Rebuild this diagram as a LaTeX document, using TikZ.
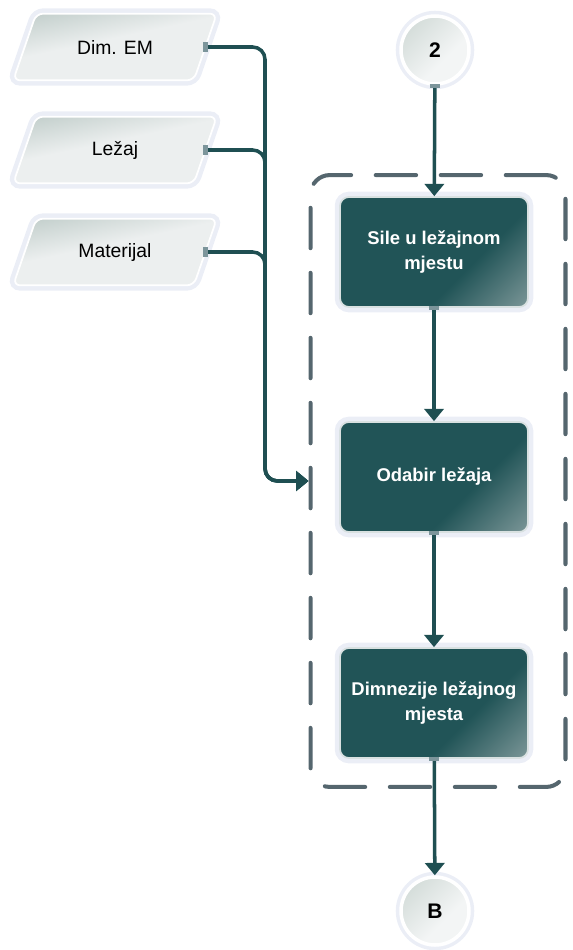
\documentclass[tikz,border=0pt]{standalone}
\usepackage{fontspec}
\setmainfont{Liberation Sans}
\usetikzlibrary{arrows.meta,backgrounds}

\definecolor{flowcol}{HTML}{1F4F52}
\definecolor{boxdark}{HTML}{215457}
\definecolor{boxcorner}{HTML}{B4C0C0}
\definecolor{boxrim}{HTML}{D9E1E1}
\definecolor{indark}{HTML}{9AAFA9}
\definecolor{inlight}{HTML}{ECEFEF}
\definecolor{cdark}{HTML}{BFCCC7}
\definecolor{clight}{HTML}{F3F5F5}
\definecolor{dashcol}{HTML}{55666E}
\definecolor{glowcol}{HTML}{D3DAEC}
\definecolor{portcol}{HTML}{7C959B}

\pgfdeclareverticalshading{boxshade}{100bp}{color(0bp)=(boxcorner); color(38bp)=(boxdark); color(100bp)=(boxdark)}
\pgfdeclareverticalshading{inshade}{100bp}{color(0bp)=(inlight); color(55bp)=(inlight); color(100bp)=(indark)}
\pgfdeclareverticalshading{cshade}{100bp}{color(0bp)=(clight); color(40bp)=(clight); color(100bp)=(cdark)}

\begin{document}
\begin{tikzpicture}[x=0.02cm, y=-0.02cm,
    glow/.style={preaction={draw=glowcol, line width=6pt, opacity=0.45}},
    inbox/.style={rectangle, minimum width=3.6cm, minimum height=1.32cm,
      font=\fontsize{11}{13}\selectfont},
    inshape/.style={draw=white, line width=1pt, rounded corners=4pt,
      shading=inshade, shading angle=12, glow},
    stepbox/.style={rectangle, minimum width=3.76cm, minimum height=2.2cm, rounded corners=5pt,
      draw=boxrim, line width=1pt, shading=boxshade, shading angle=45, text=white,
      align=center, font=\bfseries\fontsize{10.5}{14}\selectfont, glow},
    conn/.style={circle, minimum size=1.36cm, draw=white, line width=2pt,
      shading=cshade, shading angle=45, font=\bfseries\fontsize{12}{14}\selectfont, glow},
    group/.style={draw=dashcol, line width=2.3pt, dash pattern=on 23pt off 14pt,
      line cap=round, rounded corners=11pt, minimum width=5.1cm, minimum height=12.24cm},
    flow/.style={draw=flowcol, line width=2pt, rounded corners=7pt,
      -{Triangle[width=11pt,length=7pt]}},
    port/.style={draw=portcol, line width=2.5pt}]
  \useasboundingbox (0,0) rectangle (573,950);

  \node[group] (grp) at (438,481) {};

  \node[inbox] (dim) at (115,47) {Dim. EM};
  \node[inbox] (lez) at (115,150) {Ležaj};
  \node[inbox] (mat) at (115,252) {Materijal};

  \begin{scope}[on background layer]
    \foreach \n in {dim,lez,mat}
      \path[inshape] ([xshift=0.23cm]\n.north west) -- ([xshift=0.23cm]\n.north east)
        -- ([xshift=-0.23cm]\n.south east) -- ([xshift=-0.23cm]\n.south west) -- cycle;
  \end{scope}

  \node[conn] (c2) at (435,50) {2};
  \node[stepbox] (sile) at (434,252) {Sile u ležajnom\\mjestu};
  \node[stepbox] (odab) at (434,477) {Odabir ležaja};
  \node[stepbox] (dimz) at (434,703) {Dimnezije ležajnog\\mjesta};
  \node[conn] (cb) at (435,911) {B};

  \coordinate (bus) at (265,481);
  \draw[flow] (dim.east) -| (bus) -- (grp.west |- bus);
  \draw[flow] (lez.east) -| (bus) -- (grp.west |- bus);
  \draw[flow] (mat.east) -| (bus) -- (grp.west |- bus);

  \draw[flow] (c2) -- (sile);
  \draw[flow] (sile) -- (odab);
  \draw[flow] (odab) -- (dimz);
  \draw[flow] (dimz) -- (cb);

  \foreach \n in {dim,lez,mat}
    \draw[port] ([yshift=3pt]\n.east) -- ([yshift=-3pt]\n.east);
  \foreach \n in {c2,sile,odab,dimz}
    \draw[port] ([xshift=-3pt]\n.south) -- ([xshift=3pt]\n.south);
\end{tikzpicture}
\end{document}
